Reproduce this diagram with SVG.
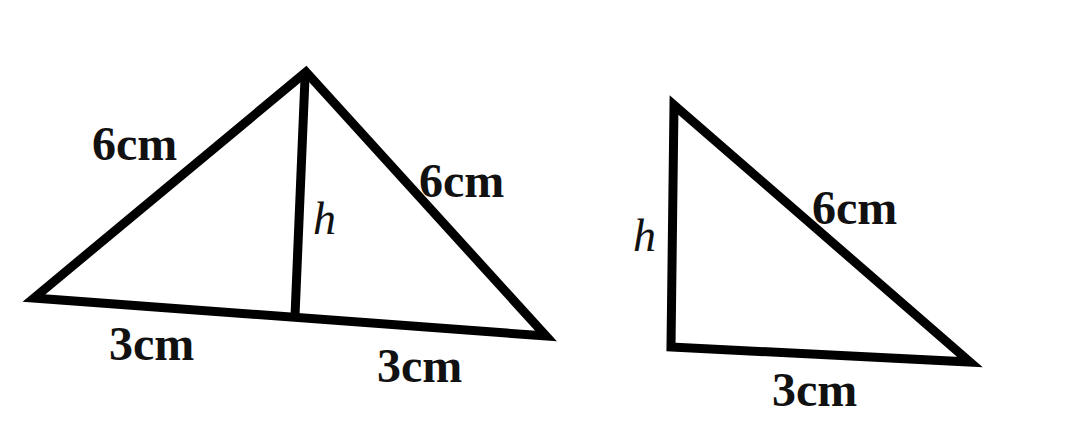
<svg xmlns="http://www.w3.org/2000/svg" width="1080" height="439" viewBox="0 0 1080 439">
  <style>
    .edge { fill: none; stroke: #000; stroke-width: 9; stroke-linejoin: miter; stroke-linecap: round; }
    .lbl { font-family: "Liberation Serif", "Times New Roman", serif; font-weight: bold; font-size: 48px; fill: #111; }
    .h { font-family: "Liberation Serif", "Times New Roman", serif; font-style: italic; font-size: 46px; fill: #111; }
  </style>
  <rect width="1080" height="439" fill="#fff"/>
  <g id="connectors">
    <polygon id="tri-left" class="edge" points="306,72 34,298 546,336"/>
    <line id="altitude" class="edge" x1="305" y1="78" x2="295" y2="316"/>
    <polygon id="tri-right" class="edge" points="674,105 671,347 970,362"/>
  </g>
  <g id="labels-left">
    <text class="lbl" x="92" y="160">6cm</text>
    <text class="lbl" x="419" y="197">6cm</text>
    <text class="h" x="313" y="234">h</text>
    <text class="lbl" x="109" y="360">3cm</text>
    <text class="lbl" x="377" y="382">3cm</text>
  </g>
  <g id="labels-right">
    <text class="h" x="633" y="251">h</text>
    <text class="lbl" x="812" y="224">6cm</text>
    <text class="lbl" x="772" y="406">3cm</text>
  </g>
</svg>
